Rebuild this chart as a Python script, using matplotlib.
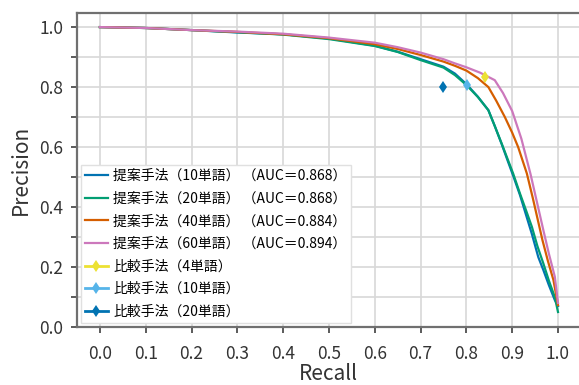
import matplotlib
matplotlib.use("Agg")
import matplotlib.pyplot as plt
import numpy as np

plt.rcParams['font.family'] = ['Noto Sans CJK JP', 'DejaVu Sans']

# ---- data ----
r10 = [0.0, 0.1, 0.2, 0.3, 0.4, 0.5, 0.6, 0.65, 0.7, 0.75, 0.775, 0.8, 0.825, 0.848, 0.862, 0.877,
       0.89, 0.902, 0.917, 0.93, 0.943, 0.957, 0.968, 0.98, 0.993, 1.0]
p10 = [1.0, 0.997, 0.99, 0.982, 0.976, 0.962, 0.938, 0.918, 0.893, 0.868, 0.845, 0.81, 0.768, 0.723, 0.67, 0.61,
       0.555, 0.505, 0.44, 0.375, 0.31, 0.233, 0.19, 0.14, 0.09, 0.07]

r20 = [0.0, 0.1, 0.2, 0.3, 0.4, 0.5, 0.6, 0.65, 0.7, 0.75, 0.775, 0.8, 0.825, 0.848, 0.862, 0.877,
       0.89, 0.902, 0.917, 0.93, 0.943, 0.955, 0.968, 0.98, 0.993, 1.0]
p20 = [1.0, 0.997, 0.99, 0.983, 0.975, 0.96, 0.937, 0.917, 0.89, 0.865, 0.84, 0.807, 0.767, 0.723, 0.67, 0.612,
       0.56, 0.512, 0.445, 0.39, 0.334, 0.27, 0.212, 0.155, 0.10, 0.05]

r40 = [0.0, 0.1, 0.2, 0.3, 0.4, 0.5, 0.6, 0.65, 0.7, 0.75, 0.775, 0.8, 0.825, 0.848, 0.865, 0.884,
       0.9, 0.913, 0.932, 0.945, 0.966, 0.978, 0.99, 1.0]
p40 = [1.0, 0.997, 0.99, 0.984, 0.976, 0.963, 0.943, 0.927, 0.907, 0.885, 0.871, 0.855, 0.83, 0.80, 0.755, 0.70,
       0.648, 0.60, 0.512, 0.43, 0.29, 0.22, 0.157, 0.073]

r60 = [0.0, 0.1, 0.2, 0.3, 0.4, 0.5, 0.6, 0.65, 0.7, 0.75, 0.775, 0.8, 0.83, 0.862, 0.88, 0.9,
       0.92, 0.94, 0.955, 0.968, 0.98, 0.993, 1.0]
p60 = [1.0, 0.997, 0.99, 0.985, 0.978, 0.965, 0.948, 0.933, 0.915, 0.893, 0.879, 0.866, 0.848, 0.823, 0.78, 0.72,
       0.628, 0.51, 0.41, 0.323, 0.245, 0.168, 0.08]

prop_labels = ["提案手法（10単語） （AUC＝0.868）",
               "提案手法（20単語） （AUC＝0.868）",
               "提案手法（40単語） （AUC＝0.884）",
               "提案手法（60単語） （AUC＝0.894）"]
cmp_labels = ["比較手法（4単語）", "比較手法（10単語）", "比較手法（20単語）"]
cmp_recall = [0.841, 0.801, 0.749]
cmp_precision = [0.833, 0.807, 0.80]

prop_colors = ['#0173b2', '#029e73', '#d55e00', '#cc78bc']
cmp_colors = ['#ece133', '#56b4e9', '#0173b2']

xticks = [0.0, 0.1, 0.2, 0.3, 0.4, 0.5, 0.6, 0.7, 0.8, 0.9, 1.0]
yticks = [0.0, 0.2, 0.4, 0.6, 0.8, 1.0]

# ---- figure ----
W, H = 579, 385
fig = plt.figure(figsize=(W / 100, H / 100), dpi=100)
ax = fig.add_axes([77 / W, 1 - 327 / H, 1 - 77 / W, (327 - 13) / H])

curves = [(r10, p10), (r20, p20), (r40, p40), (r60, p60)]
for (r, p), c, lab in zip(curves, prop_colors, prop_labels):
    ax.plot(r, p, color=c, lw=1.6, label=lab)

for x, y, c, lab in zip(cmp_recall, cmp_precision, cmp_colors, cmp_labels):
    ax.plot([x], [y], color=c, marker='d', markersize=6.5, lw=2.0,
            markeredgewidth=0, label=lab)

ax.set_xlim(-0.05, (W - 100) / 458)
ax.set_ylim(0.0, 1.047)
ax.set_xticks(xticks)
ax.set_xticklabels([f"{v:.1f}" for v in xticks])
ax.set_yticks(yticks)
ax.set_yticklabels([f"{v:.1f}" for v in yticks])
ax.set_yticks(np.arange(0.1, 1.0, 0.2), minor=True)

ax.grid(True, which='both', color='#d8d8d8', lw=1.2)
ax.set_axisbelow(True)

for s in ['top', 'left', 'bottom']:
    ax.spines[s].set_color('#707070')
    ax.spines[s].set_linewidth(1.6)
ax.spines['right'].set_visible(False)

ax.tick_params(axis='both', which='both', direction='out', length=4,
               width=1.2, color='#404040', labelcolor='#333333',
               labelsize=12.5)
ax.tick_params(axis='x', pad=9)
ax.tick_params(axis='y', pad=6)

ax.set_xlabel("Recall", fontsize=15, color='#333333', labelpad=0)
ax.set_ylabel("Precision", fontsize=15, color='#333333', labelpad=5)

leg = ax.legend(loc='lower left', bbox_to_anchor=(0.0, 0.0), fontsize=10,
                frameon=True, fancybox=False, edgecolor='#e0e0e0',
                framealpha=1.0, handlelength=1.6, handletextpad=0.4,
                labelspacing=0.62, borderpad=0.3, borderaxespad=0.3)

fig.savefig("out.png", dpi=100)
